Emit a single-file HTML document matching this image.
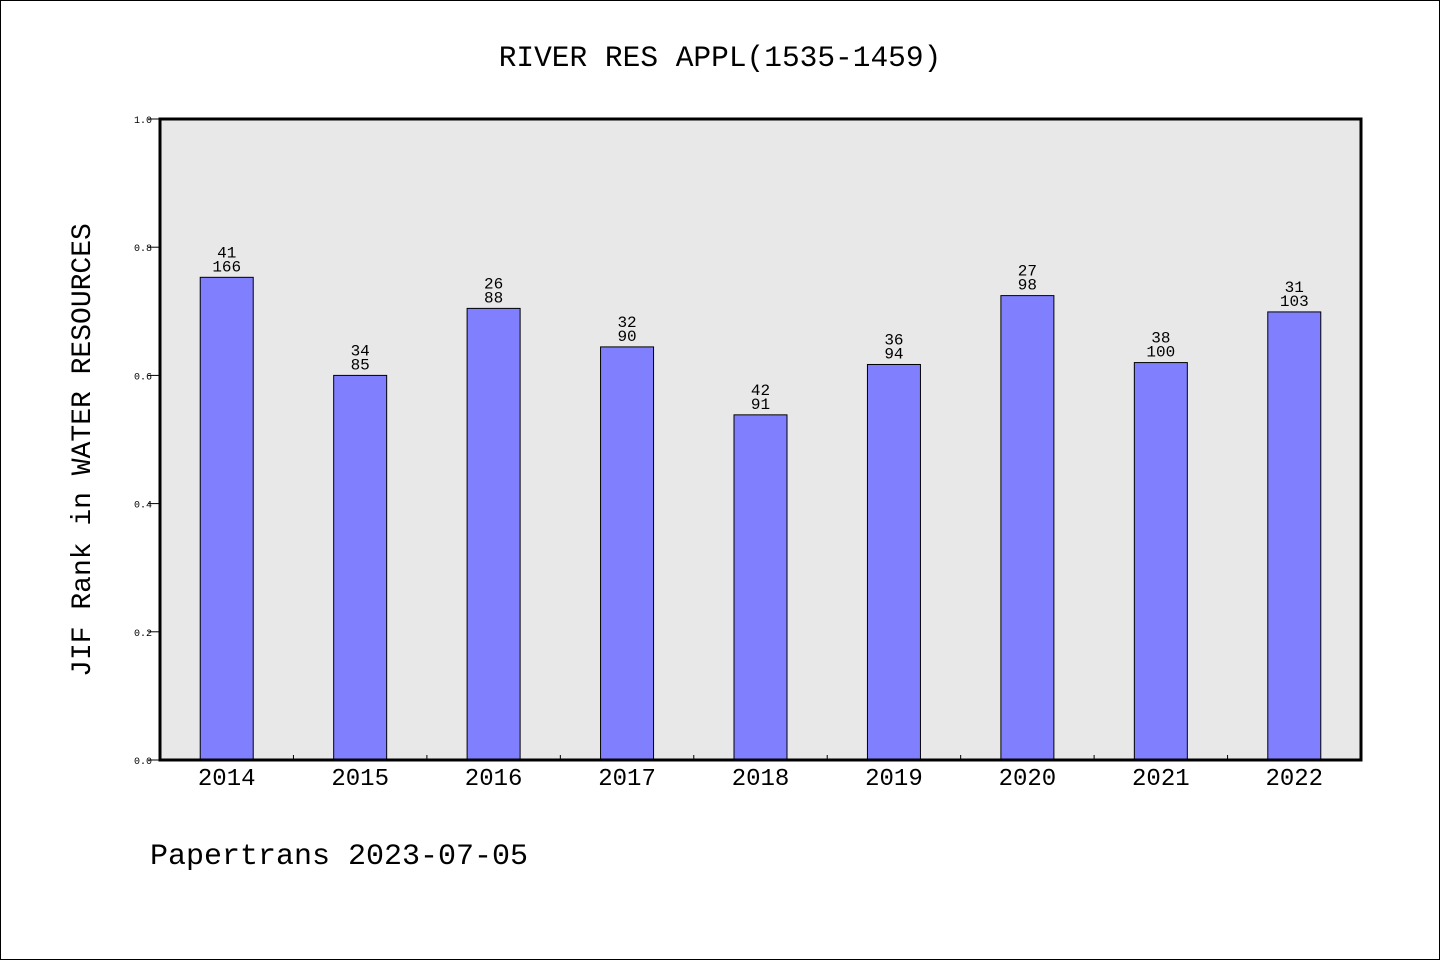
<!DOCTYPE html>
<html><head><meta charset="utf-8"><style>
html,body{margin:0;padding:0;background:#fff;}
svg{display:block;}
text{font-family:"Liberation Mono","DejaVu Sans Mono",monospace;}
</style></head><body>
<svg id="c" width="1440" height="960" xmlns="http://www.w3.org/2000/svg">
<rect x="0.5" y="0.5" width="1439" height="959" fill="#fff" stroke="#000" stroke-width="1"/>
<text x="720" y="66" text-anchor="middle" font-size="29.5">RIVER RES APPL(1535-1459)</text>
<rect x="160" y="119" width="1201" height="641" fill="#e8e8e8"/>
<g id="bars"></g>
<rect x="160" y="119" width="1201" height="641" fill="none" stroke="#000" stroke-width="3"/>
<g id="axes"></g>
<text transform="translate(90,450) rotate(-90)" text-anchor="middle" font-size="28">JIF Rank in WATER RESOURCES</text>
<text x="150" y="864" font-size="30">Papertrans 2023-07-05</text>
</svg>
<script>
const years = ['2014','2015','2016','2017','2018','2019','2020','2021','2022'];
const ranks = [41,34,26,32,42,36,27,38,31];
const totals = [166,85,88,90,91,94,98,100,103];
const yTicks = [0.0,0.2,0.4,0.6,0.8,1.0];
const NS='http://www.w3.org/2000/svg';
const L=160,R=1361,T=119,B=760;
const band=(R-L)/years.length;
const xC=i=>L+band*(i+0.5);
const yS=v=>B-(B-T)*v;
const bw=53;
const bars=document.getElementById('bars'), axes=document.getElementById('axes');
function mk(tag,attrs,parent){const e=document.createElementNS(NS,tag);for(const k in attrs)e.setAttribute(k,attrs[k]);parent.appendChild(e);return e;}
years.forEach((y,i)=>{
  const v=1-ranks[i]/totals[i];
  const r=mk('rect',{x:xC(i)-bw/2,y:yS(v),width:bw,height:B-yS(v),fill:'#8080ff',stroke:'#000','stroke-width':1},bars);
  
  
  const t1=mk('text',{x:xC(i),y:yS(v)-20,'text-anchor':'middle','font-size':16},bars);
  t1.textContent=ranks[i];
  
  
  const t2=mk('text',{x:xC(i),y:yS(v)-6,'text-anchor':'middle','font-size':16},bars);
  t2.textContent=totals[i];
  
  
  const xl=mk('text',{x:xC(i),y:785,'text-anchor':'middle','font-size':24},axes);
  xl.textContent=y;
  
  
  if(i>0){
    const tk=mk('line',{x1:L+band*i,x2:L+band*i,y1:B,y2:B-5,stroke:'#000','stroke-width':1},axes);
    
    
  }
});
yTicks.forEach(v=>{
  const tk=mk('line',{x1:L-12,x2:L,y1:yS(v),y2:yS(v),stroke:'#000','stroke-width':1},axes);
  
  
  const t=mk('text',{x:L-8-0,y:yS(v)+4,'text-anchor':'end','font-size':10,'font-family':'Liberation Sans, sans-serif'},axes);
  t.setAttribute('x',152);
  t.textContent=v.toFixed(1);
  
  
});
</script>
</body></html>
